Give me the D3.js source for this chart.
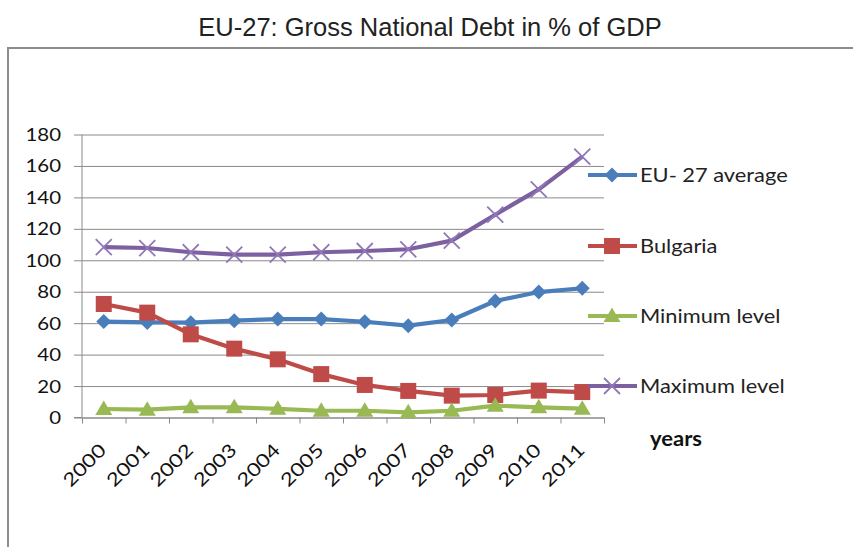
<!DOCTYPE html>
<html>
<head>
<meta charset="utf-8">
<script src="https://cdn.jsdelivr.net/npm/d3@7"></script>
<style>
  body { margin: 0; background: #fff; }
  .tick text { font-family: Lato, "Open Sans", sans-serif; fill: #111; }
</style>
</head>
<body>
<svg id="chart" width="853" height="547"></svg>
<script>
const years = ["2000","2001","2002","2003","2004","2005","2006","2007","2008","2009","2010","2011"];
const euAverage = [61, 60.5, 60.3, 61.6, 62.6, 62.6, 60.9, 58.4, 62, 74.1, 79.8, 82.2];
const bulgaria  = [72.2, 66.7, 52.9, 43.8, 37, 27.6, 20.7, 16.9, 13.9, 14.3, 17.1, 16.2];
const minLevel  = [5.4, 5, 6.5, 6.5, 5.5, 4.3, 4.3, 3.3, 4.3, 7.5, 6.5, 5.6];
const maxLevel  = [108.4, 107.8, 105.1, 103.6, 103.6, 105.1, 105.9, 107, 112.5, 129, 145.1, 165.9];
const seriesNames = ["EU- 27 average", "Bulgaria", "Minimum level", "Maximum level"];
const yTicks = [0, 20, 40, 60, 80, 100, 120, 140, 160, 180];

const series = [
  {name: seriesNames[0], values: euAverage, color: "#4a7ebb", marker: "diamond"},
  {name: seriesNames[1], values: bulgaria,  color: "#be4b48", marker: "square"},
  {name: seriesNames[2], values: minLevel,  color: "#98b954", marker: "triangle"},
  {name: seriesNames[3], values: maxLevel,  color: "#7d60a0", marker: "cross"}
];

const svg = d3.select("#chart");
const plotLeft = 82, plotRight = 604, plotTop = 134.5, plotBottom = 417.5;
const stretch = 1.2;   // the original text is drawn wide

// frame and title
svg.append("rect")
    .attr("x", 8).attr("y", 48).attr("width", 900).attr("height", 600)
    .attr("fill", "none").attr("stroke", "#8c8c8c").attr("stroke-width", 2);

svg.append("text")
    .attr("x", 430).attr("y", 36)
    .attr("text-anchor", "middle")
    .attr("font-family", "'Liberation Sans', Arial, sans-serif")
    .attr("font-size", 25.5)
    .attr("fill", "#222")
    .text("EU-27: Gross National Debt in % of GDP");

const xScale = d3.scaleBand().domain(years).range([plotLeft, plotRight]).padding(0);
const xEdges = d3.scaleLinear().domain([0, years.length]).range([plotLeft, plotRight]);
const yScale = d3.scaleLinear().domain([0, 180]).range([plotBottom, plotTop]);

// y axis with gridlines
const yAxis = svg.append("g")
    .attr("transform", `translate(${plotLeft},0)`)
    .call(d3.axisLeft(yScale).tickValues(yTicks).tickSize(-(plotRight - plotLeft)).tickPadding(0));
yAxis.select(".domain").remove();
yAxis.selectAll(".tick line")
    .attr("x1", -8)
    .attr("stroke", "#8a8a8a");
yAxis.selectAll(".tick text")
    .attr("x", null).attr("dy", null)
    .attr("font-size", 17)
    .attr("text-anchor", "end")
    .attr("transform", "translate(-21,6) scale(" + stretch + ",1)");
svg.append("line")
    .attr("x1", plotLeft).attr("x2", plotLeft).attr("y1", plotTop).attr("y2", plotBottom)
    .attr("stroke", "#8a8a8a");

// x axis: boundary ticks
const xTicks = svg.append("g")
    .attr("transform", `translate(0,${plotBottom})`)
    .call(d3.axisBottom(xEdges).ticks(years.length).tickFormat("").tickSize(6).tickSizeOuter(0));
xTicks.select(".domain").attr("stroke", "#8a8a8a");
xTicks.selectAll(".tick line").attr("stroke", "#8a8a8a");
svg.append("line")
    .attr("x1", plotLeft - 8).attr("x2", plotLeft).attr("y1", plotBottom).attr("y2", plotBottom)
    .attr("stroke", "#8a8a8a");

// x axis: rotated labels
const xAxis = svg.append("g")
    .attr("transform", `translate(0,${plotBottom})`)
    .call(d3.axisBottom(xScale).tickSize(0));
xAxis.select(".domain").remove();
xAxis.selectAll(".tick text")
    .attr("y", null).attr("dy", null)
    .attr("font-size", 18.5)
    .attr("text-anchor", "end")
    .attr("transform", "translate(3.5,34) rotate(-45) scale(" + stretch + ",1)");

svg.append("text")
    .attr("x", 0).attr("y", 0)
    .attr("font-family", "Lato, sans-serif")
    .attr("font-weight", "bold")
    .attr("font-size", 20)
    .attr("fill", "#111")
    .attr("transform", "translate(650,446) scale(1.1,1)")
    .text("years");

function drawMarker(g, type, color) {
  if (type === "diamond") {
    g.append("path").attr("d", "M0,-7.5L7.5,0L0,7.5L-7.5,0Z").attr("fill", color);
  } else if (type === "square") {
    g.append("rect").attr("x", -8).attr("y", -8).attr("width", 16).attr("height", 16).attr("fill", color);
  } else if (type === "triangle") {
    g.append("path").attr("d", "M0,-8.5L8.5,6L-8.5,6Z").attr("fill", color);
  } else {
    g.append("path").attr("d", "M-8,-8L8,8M-8,8L8,-8")
      .attr("stroke", "#9277b8").attr("stroke-width", 1.8).attr("fill", "none");
  }
}

const line = d3.line()
    .x((d, i) => xScale(years[i]) + xScale.bandwidth() / 2)
    .y(d => yScale(d));

series.forEach(s => {
  svg.append("path")
      .datum(s.values)
      .attr("d", line)
      .attr("fill", "none")
      .attr("stroke", s.color)
      .attr("stroke-width", 4.2)
      .attr("stroke-linejoin", "round");
  s.values.forEach((v, i) => {
    const g = svg.append("g")
        .attr("transform", `translate(${xScale(years[i]) + xScale.bandwidth() / 2},${yScale(v)})`);
    drawMarker(g, s.marker, s.color);
  });
});

// legend
const legendY = [175, 246, 316, 386];
series.forEach((s, i) => {
  const lg = svg.append("g").attr("transform", `translate(588,${legendY[i]})`);
  lg.append("line").attr("x1", 0).attr("x2", 49).attr("stroke", s.color).attr("stroke-width", 4.2);
  const mk = lg.append("g").attr("transform", "translate(24,0)");
  drawMarker(mk, s.marker, s.color);
  lg.append("text")
      .attr("x", 0).attr("y", 0)
      .attr("font-family", "Lato, sans-serif")
      .attr("font-size", 19.5)
      .attr("fill", "#222")
      .attr("transform", "translate(52,7) scale(1.12,1)")
      .text(s.name);
});
</script>
</body>
</html>
